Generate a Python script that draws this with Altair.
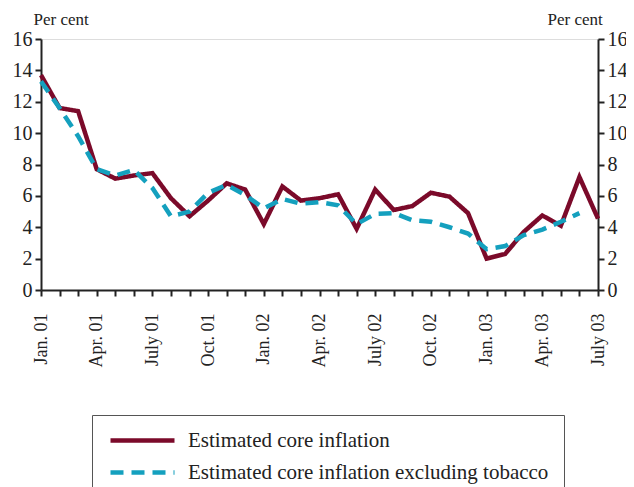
import altair as alt
import pandas as pd

months = ["Jan. 01", "Feb. 01", "Mar. 01", "Apr. 01", "May 01", "June 01",
          "July 01", "Aug. 01", "Sep. 01", "Oct. 01", "Nov. 01", "Dec. 01",
          "Jan. 02", "Feb. 02", "Mar. 02", "Apr. 02", "May 02", "June 02",
          "July 02", "Aug. 02", "Sep. 02", "Oct. 02", "Nov. 02", "Dec. 02",
          "Jan. 03", "Feb. 03", "Mar. 03", "Apr. 03", "May 03", "June 03",
          "July 03"]
core = [13.7, 11.6, 11.4, 7.7, 7.1, 7.3, 7.45, 5.85, 4.7, 5.7, 6.8, 6.4,
        4.2, 6.6, 5.7, 5.85, 6.1, 3.9, 6.4, 5.1, 5.35, 6.2, 5.95, 4.9,
        2.0, 2.3, 3.7, 4.75, 4.1, 7.2, 4.55]
core_ex = [13.3, 11.6, 9.8, 7.7, 7.3, 7.65, 6.5, 4.7, 5.0, 6.2, 6.7, 6.05,
           5.2, 5.8, 5.5, 5.6, 5.4, 4.2, 4.85, 4.9, 4.45, 4.35, 4.0, 3.6,
           2.6, 2.8, 3.5, 3.85, 4.35, 4.9, None]
shown_labels = ["Jan. 01", "Apr. 01", "July 01", "Oct. 01", "Jan. 02", "Apr. 02",
                "July 02", "Oct. 02", "Jan. 03", "Apr. 03", "July 03"]
y_ticks = [0, 2, 4, 6, 8, 10, 12, 14, 16]

s1 = "Estimated core inflation"
s2 = "Estimated core inflation excluding tobacco"

rows = []
for i, m in enumerate(months):
    rows.append({"idx": i, "month": m, "series": s1, "value": core[i]})
    if core_ex[i] is not None:
        rows.append({"idx": i, "month": m, "series": s2, "value": core_ex[i]})
df = pd.DataFrame(rows)

FONT = "'Liberation Serif', 'Times New Roman', serif"
label_js = "[" + ",".join('"%s"' % m for m in months) + "]"
shown_js = "[" + ",".join('"%s"' % m for m in shown_labels) + "]"
lbl_expr = f"indexof({shown_js}, {label_js}[datum.value]) >= 0 ? {label_js}[datum.value] : ''"

x_enc = alt.X("idx:Q",
              scale=alt.Scale(domain=[0, len(months) - 1], nice=False, zero=False),
              axis=alt.Axis(values=list(range(len(months))), labelExpr=lbl_expr,
                            labelAngle=270, labelAlign="right", labelBaseline="middle",
                            labelPadding=17, tickSize=6, grid=False, title=None,
                            labelFont=FONT, labelFontSize=18, labelColor="#222",
                            domainColor="#222", tickColor="#222", domainWidth=2,
                            tickWidth=2, labelOverlap=False, labelBound=False,
                            labelFlush=False))

def y_axis(orient, title_x):
    return alt.Axis(orient=orient, values=y_ticks, grid=False, tickSize=6,
                    title="Per cent", titleAngle=0, titleAlign="left",
                    titleBaseline="alphabetic", titleX=title_x, titleY=-15,
                    titleFont=FONT, titleFontSize=17, titleFontWeight="normal",
                    titleColor="#222",
                    labelFont=FONT, labelFontSize=20, labelColor="#222",
                    labelPadding=3, domainColor="#222", tickColor="#222",
                    domainWidth=2, tickWidth=2)

yscale = alt.Scale(domain=[0, 16], nice=False)

lines = alt.Chart(df).mark_line(strokeWidth=4.5).encode(
    x=x_enc,
    y=alt.Y("value:Q", scale=yscale, axis=y_axis("left", -8)),
    color=alt.Color("series:N",
                    scale=alt.Scale(domain=[s1, s2], range=["#7b0a2a", "#14a0be"]),
                    legend=alt.Legend(orient="none", legendX=51, legendY=376,
                                      title=None, symbolType="M-0.875,0H7.125",
                                      symbolStrokeWidth=4.5, symbolSize=256,
                                      labelFont=FONT, labelFontSize=21,
                                      labelColor="#222", labelOffset=60,
                                      rowPadding=10, padding=15,
                                      strokeColor="#555", labelLimit=600)),
    strokeDash=alt.StrokeDash("series:N",
                              scale=alt.Scale(domain=[s1, s2], range=[[1, 0], [13, 8]]),
                              legend=None),
)

right = alt.Chart(df).mark_point(opacity=0).encode(
    x=x_enc,
    y=alt.Y("value:Q", scale=yscale, axis=y_axis("right", -51)),
)

chart = alt.layer(lines, right).resolve_axis(y="independent").properties(
    width=557, height=251,
    autosize=alt.AutoSizeParams(type="none"),
    padding={"left": 33, "top": 31, "right": 28, "bottom": 197},
).configure_view(stroke=None).configure(
    background="white", font=FONT
).configure_axis(labelFont=FONT, titleFont=FONT).configure_legend(labelFont=FONT)

chart.save("out.html", embed_options={"renderer": "svg", "actions": False})
